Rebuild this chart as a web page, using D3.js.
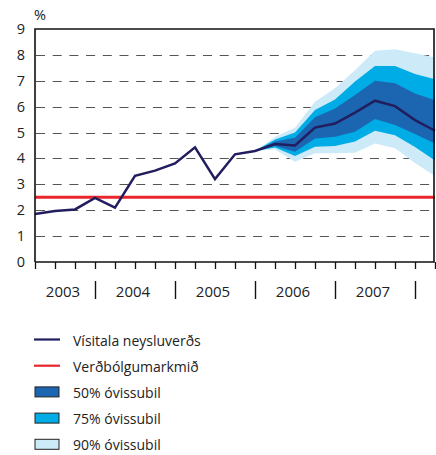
<!DOCTYPE html>
<html>
<head>
<meta charset="utf-8">
<script src="https://cdn.jsdelivr.net/npm/d3@7"></script>
<style>
  body { margin: 0; background: #fff; }
  svg { display: block; font-family: 'Open Sans', sans-serif; }
</style>
</head>
<body>
<svg id="chart" width="436" height="455"></svg>
<script>
const years = ['2003', '2004', '2005', '2006', '2007'];
const yTicks = [0, 1, 2, 3, 4, 5, 6, 7, 8, 9];
// quarterly points, index 0 = first quarter shown
const history = [1.85, 1.97, 2.03, 2.48, 2.1, 3.33, 3.53, 3.81, 4.43, 3.2, 4.16, 4.29];
// forecast starts at last history point (index 11)
const forecast = [4.29, 4.56, 4.5, 5.19, 5.35, 5.77, 6.23, 6.02, 5.48, 5.07];
const lo50 = [4.29, 4.48, 4.26, 4.77, 4.84, 5.03, 5.52, 5.29, 4.94, 4.58];
const hi50 = [4.29, 4.65, 4.8, 5.59, 5.93, 6.45, 7.0, 6.9, 6.51, 6.25];
const lo75 = [4.29, 4.42, 4.09, 4.45, 4.48, 4.65, 5.07, 4.9, 4.44, 3.92];
const hi75 = [4.29, 4.73, 5.0, 5.87, 6.28, 6.97, 7.57, 7.57, 7.26, 7.06];
const lo90 = [4.29, 4.35, 3.87, 4.2, 4.2, 4.22, 4.58, 4.39, 3.82, 3.32];
const hi90 = [4.29, 4.84, 5.19, 6.19, 6.71, 7.41, 8.16, 8.22, 8.06, 7.9];
const target = 2.5;

const NAVY = '#211d5f';
const RED = '#e8262b';
const C50 = '#1c66b1';
const C75 = '#00ace6';
const C90 = '#cdeaf9';

const svg = d3.select('#chart');
const plotLeft = 35, plotRight = 435, plotTop = 29, plotBottom = 262;
const nQ = history.length - 1 + forecast.length - 1; // 20 intervals
const x = d3.scaleLinear().domain([0, nQ]).range([plotLeft, plotRight]);
const y = d3.scaleLinear().domain([0, 9]).range([plotBottom, plotTop]);
const fStart = history.length - 1;

// grid
svg.append('g')
  .selectAll('line')
  .data(yTicks.filter((d) => d > 0 && d < 9))
  .enter()
  .append('line')
  .attr('x1', plotLeft + 1)
  .attr('x2', plotRight)
  .attr('y1', (d) => Math.round(y(d)) + 0.5)
  .attr('y2', (d) => Math.round(y(d)) + 0.5)
  .attr('stroke', '#555')
  .attr('stroke-width', 1.2)
  .attr('stroke-dasharray', '9,7.7');

// fan
const bands = [
  { lo: lo90, hi: hi90, color: C90 },
  { lo: lo75, hi: hi75, color: C75 },
  { lo: lo50, hi: hi50, color: C50 },
];
const area = (lo, hi) => d3.area()
  .x((d, i) => x(fStart + i))
  .y0((d, i) => y(lo[i]))
  .y1((d, i) => y(hi[i]))(lo);

svg.append('g')
  .selectAll('path')
  .data(bands)
  .enter()
  .append('path')
  .attr('d', (d) => area(d.lo, d.hi))
  .attr('fill', (d) => d.color);

// target line
svg.append('line')
  .attr('x1', plotLeft)
  .attr('x2', plotRight)
  .attr('y1', y(target))
  .attr('y2', y(target))
  .attr('stroke', RED)
  .attr('stroke-width', 3);

// inflation line
const line = d3.line().x((d) => x(d[0])).y((d) => y(d[1]));
const pts = history.map((v, i) => [i, v]).concat(forecast.slice(1).map((v, i) => [fStart + 1 + i, v]));
svg.append('path')
  .attr('d', line(pts))
  .attr('fill', 'none')
  .attr('stroke', NAVY)
  .attr('stroke-width', 2.5)
  .attr('stroke-linejoin', 'miter');

// frame
svg.append('path')
  .attr('d', `M${plotLeft},${plotBottom}V${plotTop}H${plotRight - 1}V${plotBottom}H${plotLeft}`)
  .attr('fill', 'none')
  .attr('stroke', '#111')
  .attr('stroke-width', 1.6);

// y axis labels
svg.append('g')
  .selectAll('text')
  .data(yTicks)
  .enter()
  .append('text')
  .attr('x', 25)
  .attr('y', (d) => y(d) + 5)
  .attr('text-anchor', 'end')
  .attr('font-size', 14.5)
  .attr('fill', '#222')
  .text((d) => d);

svg.append('text')
  .attr('x', 40)
  .attr('y', 20)
  .attr('text-anchor', 'middle')
  .attr('font-size', 14.5)
  .attr('fill', '#222')
  .text('%');

// x ticks
svg.append('g')
  .selectAll('line')
  .data(d3.range(0, nQ + 1))
  .enter()
  .append('line')
  .attr('x1', (d) => Math.round(x(d)) + 0.5)
  .attr('x2', (d) => Math.round(x(d)) + 0.5)
  .attr('y1', plotBottom)
  .attr('y2', plotBottom + 7)
  .attr('stroke', '#111')
  .attr('stroke-width', 1.3);

// year separators and labels
const seps = years.map((d, i) => 3 + i * 4);
svg.append('g')
  .selectAll('line')
  .data(seps)
  .enter()
  .append('line')
  .attr('x1', (d) => Math.round(x(d)) + 0.5)
  .attr('x2', (d) => Math.round(x(d)) + 0.5)
  .attr('y1', 281)
  .attr('y2', 299)
  .attr('stroke', '#111')
  .attr('stroke-width', 1.4);

svg.append('g')
  .selectAll('text')
  .data(years)
  .enter()
  .append('text')
  .attr('x', (d, i) => x(i === 0 ? 1.4 : (seps[i - 1] + seps[i]) / 2 - 0.1))
  .attr('y', 297)
  .attr('text-anchor', 'middle')
  .attr('font-size', 15)
  .attr('fill', '#222')
  .text((d) => d);

// legend
const legendItems = [
  { label: 'Vísitala neysluverðs', type: 'line', color: NAVY },
  { label: 'Verðbólgumarkmið', type: 'line', color: RED },
  { label: '50% óvissubil', type: 'rect', color: C50 },
  { label: '75% óvissubil', type: 'rect', color: C75 },
  { label: '90% óvissubil', type: 'rect', color: C90 },
];
const legend = svg.append('g')
  .selectAll('g')
  .data(legendItems)
  .enter()
  .append('g')
  .attr('transform', (d, i) => `translate(34, ${339.5 + i * 26.2})`);

legend.filter((d) => d.type === 'line')
  .append('line')
  .attr('x1', 0)
  .attr('x2', 26)
  .attr('stroke', (d) => d.color)
  .attr('stroke-width', 2.2);

legend.filter((d) => d.type === 'rect')
  .append('rect')
  .attr('x', 1)
  .attr('y', -5)
  .attr('width', 24)
  .attr('height', 10)
  .attr('fill', (d) => d.color)
  .attr('stroke', '#222')
  .attr('stroke-width', 1);

legend.append('text')
  .attr('x', 39)
  .attr('y', 6)
  .attr('font-size', 14)
  .attr('fill', '#222')
  .text((d) => d.label);
</script>
</body>
</html>
